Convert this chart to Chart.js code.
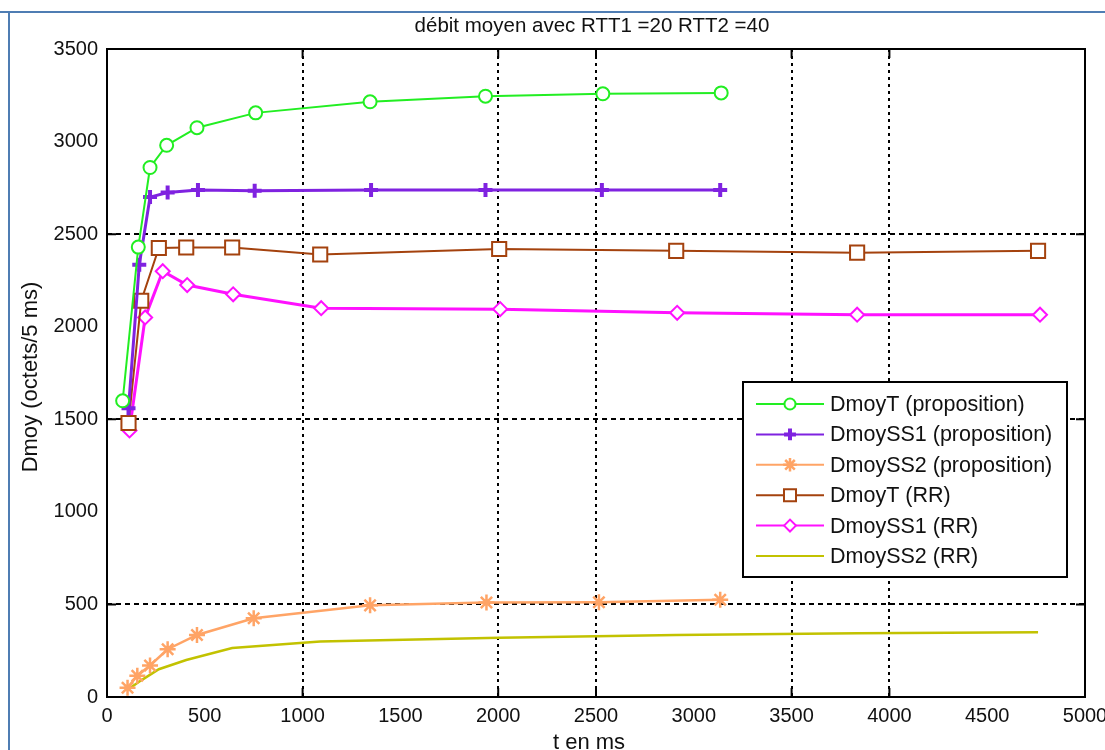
<!DOCTYPE html>
<html>
<head>
<meta charset="utf-8">
<script src="https://cdn.jsdelivr.net/npm/chart.js@4.4.0/dist/chart.umd.min.js"></script>
<style>
body { margin: 0; background: #fff; }
#wrap { width: 1105px; height: 750px; }
</style>
</head>
<body>
<div id="wrap"><canvas id="chart" width="1105" height="750"></canvas></div>
<script>
// t (ms) and Dmoy values
const tPropT  = [80, 160, 220, 305, 460, 760, 1345, 1935, 2535, 3140];
const dPropT  = [1600, 2430, 2860, 2980, 3075, 3155, 3215, 3245, 3258, 3263];
const tPropS1 = [110, 165, 220, 310, 465, 755, 1350, 1935, 2530, 3135];
const dPropS1 = [1560, 2335, 2700, 2725, 2738, 2735, 2738, 2738, 2738, 2738];
const tPropS2 = [105, 155, 220, 310, 460, 750, 1345, 1940, 2515, 3135];
const dPropS2 = [50, 115, 170, 258, 335, 425, 495, 510, 512, 525];
const tRRT    = [110, 175, 265, 405, 640, 1090, 2005, 2910, 3835, 4760];
const dRRT    = [1480, 2140, 2425, 2428, 2428, 2390, 2420, 2410, 2400, 2410];
const tRRS1   = [115, 195, 285, 410, 645, 1095, 2010, 2915, 3835, 4770];
const dRRS1   = [1440, 2050, 2300, 2225, 2175, 2100, 2095, 2075, 2065, 2065];
const tRRS2   = [107, 175, 265, 405, 640, 1090, 2005, 2910, 3835, 4760];
const dRRS2   = [40, 90, 150, 200, 265, 300, 320, 335, 345, 350];

const labels = ['DmoyT (proposition)', 'DmoySS1 (proposition)', 'DmoySS2 (proposition)',
                'DmoyT (RR)', 'DmoySS1 (RR)', 'DmoySS2 (RR)'];
const titleText = 'débit moyen avec RTT1 =20 RTT2 =40';
const xTitle = 't en ms';
const yTitle = 'Dmoy (octets/5 ms)';

// only these grid lines survive in the reference picture
const xGridShown = [1000, 2000, 2500, 3500, 4000];
const yGridShown = [500, 1500, 2500];

const FONT = 'Liberation Sans, Arial, sans-serif';

function pts(t, d) {
    return t.map((x, i) => ({x: x, y: d[i]}));
}

function mkSet(label, t, d, color, style, radius, width, markerWidth) {
    return {
        label: label,
        data: pts(t, d),
        borderColor: color,
        backgroundColor: color,
        borderWidth: width,
        pointStyle: style,
        pointRadius: style ? radius : 0,
        pointBorderColor: color,
        pointBackgroundColor: style === 'cross' || style === 'star' ? color : '#fff',
        pointBorderWidth: markerWidth,
        tension: 0,
        fill: false
    };
}

const datasets = [
    mkSet(labels[0], tPropT, dPropT, '#22ee22', 'circle', 6.5, 2, 2),
    mkSet(labels[1], tPropS1, dPropS1, '#7f22e0', 'cross', 7, 3, 4),
    mkSet(labels[2], tPropS2, dPropS2, '#ffa466', 'star', 8, 2.5, 2.5),
    mkSet(labels[3], tRRT, dRRT, '#a4420e', 'rect', 10, 2, 2),
    mkSet(labels[4], tRRS1, dRRS1, '#ff11ff', 'rectRot', 7, 3, 2),
    mkSet(labels[5], tRRS2, dRRS2, '#c2c200', false, 0, 2.5, 0)
];

const decor = {
    id: 'decor',
    beforeDraw(chart) {
        const c = chart.ctx;
        c.save();
        c.fillStyle = '#fff';
        c.fillRect(0, 0, chart.width, chart.height);
        c.strokeStyle = '#4f7db3';
        c.lineWidth = 2;
        c.beginPath();
        c.moveTo(0, 12); c.lineTo(chart.width, 12);
        c.moveTo(9, 12); c.lineTo(9, chart.height);
        c.stroke();
        c.restore();
    },
    afterDatasetsDraw(chart) {
        const c = chart.ctx;
        const a = chart.chartArea;
        const xs = chart.scales.x, ys = chart.scales.y;
        c.save();
        // box
        c.strokeStyle = '#000';
        c.lineWidth = 2;
        c.strokeRect(a.left, a.top, a.right - a.left, a.bottom - a.top);
        // inner ticks
        c.beginPath();
        xGridShown.forEach(v => {
            const px = xs.getPixelForValue(v);
            c.moveTo(px, a.bottom); c.lineTo(px, a.bottom - 9);
            c.moveTo(px, a.top); c.lineTo(px, a.top + 9);
        });
        yGridShown.forEach(v => {
            const py = ys.getPixelForValue(v);
            c.moveTo(a.left, py); c.lineTo(a.left + 9, py);
            c.moveTo(a.right, py); c.lineTo(a.right - 9, py);
        });
        c.stroke();

        // legend inside the plot
        const L = 743, T = 382, R = 1067, B = 577;
        c.fillStyle = '#fff';
        c.fillRect(L, T, R - L, B - T);
        c.strokeRect(L, T, R - L, B - T);
        c.font = '21.5px ' + FONT;
        c.textBaseline = 'middle';
        c.textAlign = 'left';
        chart.data.datasets.forEach((ds, i) => {
            const y = 404 + i * 30.4;
            c.strokeStyle = ds.borderColor;
            c.lineWidth = 2;
            c.beginPath();
            c.moveTo(756, y); c.lineTo(824, y);
            c.stroke();
            if (ds.pointStyle) {
                c.fillStyle = ds.pointBackgroundColor;
                c.strokeStyle = ds.pointBorderColor;
                c.lineWidth = ds.pointBorderWidth;
                Chart.helpers.drawPoint(c, {
                    pointStyle: ds.pointStyle,
                    radius: ds.pointRadius * 0.85,
                    borderWidth: ds.pointBorderWidth,
                    rotation: 0
                }, 790, y);
            }
            c.fillStyle = '#111';
            c.fillText(ds.label, 830, y + 1);
        });
        c.restore();
    },
    afterDraw(chart) {
        const c = chart.ctx;
        c.save();
        c.fillStyle = '#111';
        c.textAlign = 'center';
        c.textBaseline = 'middle';
        c.font = '20.5px ' + FONT;
        c.fillText(titleText, 592, 26);
        c.font = '22px ' + FONT;
        c.fillText(xTitle, 589, 743);
        c.translate(31, 377);
        c.rotate(-Math.PI / 2);
        c.fillText(yTitle, 0, 0);
        c.restore();
    }
};

new Chart(document.getElementById('chart'), {
    type: 'line',
    data: { datasets: datasets },
    options: {
        responsive: false,
        animation: false,
        layout: { padding: { top: 49, right: 20, left: 0, bottom: 0 } },
        plugins: {
            legend: { display: false },
            title: { display: false },
            tooltip: { enabled: false }
        },
        scales: {
            x: {
                type: 'linear',
                min: 0,
                max: 5000,
                afterFit: s => { s.height = 53; s.paddingLeft = 0; s.paddingRight = 0; },
                ticks: {
                    stepSize: 500,
                    autoSkip: false,
                    maxRotation: 0,
                    padding: 7,
                    color: '#111',
                    font: { family: FONT, size: 20 },
                    callback: v => String(v)
                },
                grid: {
                    drawTicks: false,
                    lineWidth: 2,
                    color: ctx => xGridShown.includes(ctx.tick && ctx.tick.value) ? '#000' : 'rgba(0,0,0,0)'
                },
                border: { display: false, dash: [3, 4] }
            },
            y: {
                type: 'linear',
                min: 0,
                max: 3500,
                afterFit: s => { s.width = 107; s.paddingTop = 0; s.paddingBottom = 0; },
                ticks: {
                    stepSize: 500,
                    padding: 9,
                    color: '#111',
                    font: { family: FONT, size: 20 },
                    callback: v => String(v)
                },
                grid: {
                    drawTicks: false,
                    lineWidth: 2,
                    color: ctx => yGridShown.includes(ctx.tick && ctx.tick.value) ? '#000' : 'rgba(0,0,0,0)'
                },
                border: { display: false, dash: [5, 4] }
            }
        }
    },
    plugins: [decor]
});
</script>
</body>
</html>
